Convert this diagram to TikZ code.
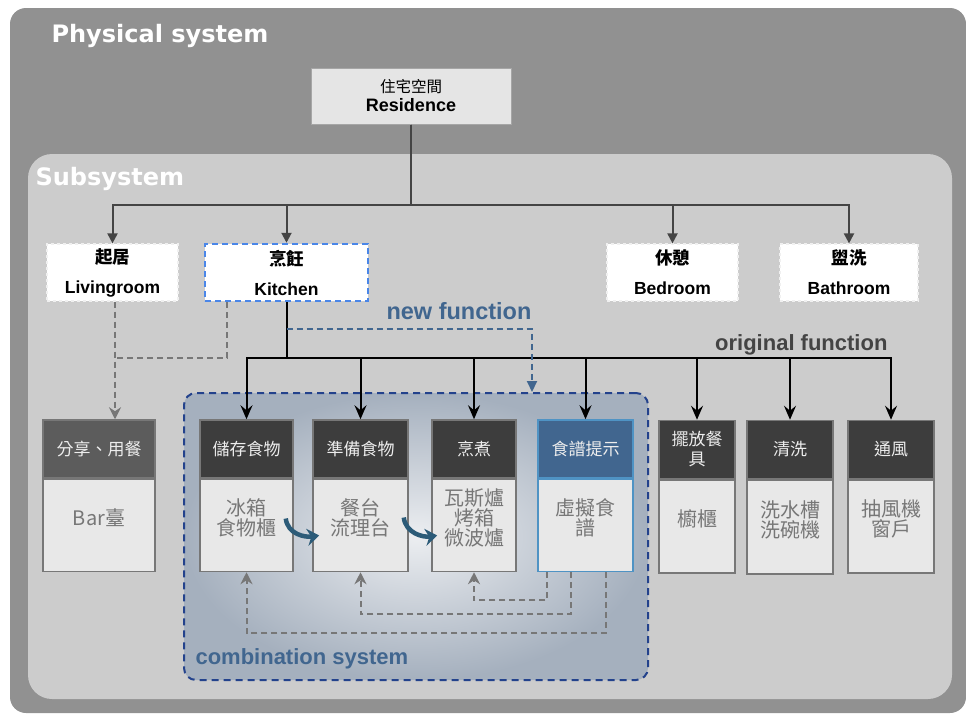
\documentclass[tikz,border=0pt]{standalone}
\usepackage{fontspec}
\setmainfont{Liberation Sans}
\newfontfamily\cjk{Noto Sans CJK TC}
\newfontfamily\verd{DejaVu Sans}
\usetikzlibrary{arrows.meta,positioning}

\definecolor{outergray}{HTML}{919191}
\definecolor{subgray}{HTML}{CCCCCC}
\definecolor{linkgray}{HTML}{444444}
\definecolor{headgray}{HTML}{3D3D3D}
\definecolor{bargray}{HTML}{5C5C5C}
\definecolor{bodygray}{HTML}{E8E8E8}
\definecolor{edgegray}{HTML}{777777}
\definecolor{steel}{HTML}{41668F}
\definecolor{recipeedge}{HTML}{4F93C4}
\definecolor{kitchenblue}{HTML}{4A86E8}
\definecolor{combodash}{HTML}{23428C}
\definecolor{flowteal}{HTML}{2C5B78}
\definecolor{comboin}{HTML}{ECEEF1}
\definecolor{comboout}{HTML}{A5B0BE}

\tikzset{
    roombox/.style={draw=white!88!gray, dashed, line width=1.2pt, fill=white,
        minimum height=57pt, inner sep=0pt, align=center,
        font=\fontsize{17.5}{30}\selectfont\bfseries},
    headbox/.style={draw=edgegray, line width=1.5pt, fill=headgray, text=white!86!gray,
        minimum height=58pt, inner sep=0pt, align=center,
        font=\cjk\fontsize{17}{20}\selectfont},
    bodybox/.style={draw=edgegray, line width=1.5pt, fill=bodygray, text=edgegray,
        minimum height=92pt, inner sep=0pt, align=center, anchor=north, text depth=16pt,
        font=\cjk\fontsize{20}{20}\selectfont},
    toparrow/.style={draw=linkgray, line width=2pt, -{Triangle[length=10pt,width=10pt]}},
    funcarrow/.style={draw=black, line width=2pt, -{Stealth[length=14pt,width=12pt,inset=5pt]}},
    backarrow/.style={draw=edgegray, line width=2pt, dash pattern=on 6pt off 4pt,
        -{Stealth[length=12pt,width=12pt,inset=4pt]}},
    newarrow/.style={draw=steel, line width=2pt, dash pattern=on 6pt off 4pt,
        -{Triangle[length=11pt,width=10pt]}},
    flowarrow/.style={draw=flowteal, line width=4.5pt, -{Stealth[length=12pt,width=17pt,inset=4pt]}},
    framelabel/.style={anchor=base west, text=white, font=\verd\bfseries\fontsize{24}{28}\selectfont},
    funclabel/.style={font=\bfseries\fontsize{22}{26}\selectfont},
}

\begin{document}
\begin{tikzpicture}[x=1pt, y=-1pt]

    \useasboundingbox (0,0) rectangle (966,715);
    \fill[white] (0,0) rectangle (966,715);

    % Physical system frame
    \fill[outergray, rounded corners=16pt] (10,8) rectangle (966,713);
    \node[framelabel] (physlabel) at (48,42) {Physical system};

    % Subsystem frame
    \fill[subgray, rounded corners=24pt] (28,154) rectangle (952,699);
    \node[framelabel] (sublabel) at (32,185) {Subsystem};

    % Combination system (shaded, dashed)
    \node[draw=combodash, dashed, dash pattern=on 7pt off 5pt, line width=2pt, rounded corners=12pt,
        inner color=comboin, outer color=comboout, minimum width=464pt, minimum height=287pt,
        inner sep=0pt] (combo) at (416,536.5) {};
    \node[funclabel, anchor=base west, text=steel] (combolabel) at (192,664) {combination system};

    % Residence
    \node[draw=gray!70, line width=1pt, fill=gray!20, minimum width=200pt, minimum height=56pt,
        inner sep=0pt, align=center, font=\fontsize{18}{19}\selectfont] (res) at (411,96)
        {{\cjk\fontsize{15.5}{19}\selectfont 住宅空間}\\\textbf{Residence}};

    % Rooms
    \node[roombox, minimum width=131pt] (living) at (112.5,272.5) {{\cjk 起居}\\Livingroom};
    \node[roombox, minimum width=163pt, draw=kitchenblue, line width=2.5pt,
        dash pattern=on 6pt off 4pt] (kitchen) at (286.5,272.5) {{\cjk 烹飪}\\Kitchen};
    \node[roombox, minimum width=131pt] (bedroom) at (672.5,272.5) {{\cjk 休憩}\\Bedroom};
    \node[roombox, minimum width=138pt] (bathroom) at (849,272.5) {{\cjk 盥洗}\\Bathroom};

    % Functions (header + body)
    \node[headbox, fill=bargray, minimum width=112pt] (bar) at (99,449) {分享、用餐};
    \node[bodybox, minimum width=112pt] (barb) at (bar.south) {Bar臺};

    \node[headbox, minimum width=93pt] (store) at (246.5,449) {儲存食物};
    \node[bodybox, minimum width=93pt] (storeb) at (store.south) {冰箱\\食物櫃};

    \node[headbox, minimum width=95pt] (prep) at (360.5,449) {準備食物};
    \node[bodybox, minimum width=95pt] (prepb) at (prep.south) {餐台\\流理台};

    \node[headbox, minimum width=84pt] (cook) at (474,449) {烹煮};
    \node[bodybox, minimum width=84pt] (cookb) at (cook.south) {瓦斯爐\\烤箱\\微波爐};

    \node[headbox, fill=steel, draw=recipeedge, minimum width=95pt] (recipe) at (585.5,449) {食譜提示};
    \node[bodybox, draw=recipeedge, minimum width=95pt] (recipeb) at (recipe.south) {虛擬食\\譜};

    \node[headbox, minimum width=76pt] (dish) at (697,449.5) {擺放餐\\具};
    \node[bodybox, minimum width=76pt, minimum height=93pt] (dishb) at (dish.south) {櫥櫃};

    \node[headbox, minimum width=86pt] (wash) at (790,449.5) {清洗};
    \node[bodybox, minimum width=86pt, minimum height=94pt] (washb) at (wash.south) {洗水槽\\洗碗機};

    \node[headbox, minimum width=86pt] (vent) at (891,449.5) {通風};
    \node[bodybox, minimum width=86pt, minimum height=93pt] (ventb) at (vent.south) {抽風機\\窗戶};

    % Residence -> rooms
    \coordinate (hub) at (411,205);
    \foreach \room in {living, kitchen, bedroom, bathroom} {
        \draw[toparrow] (res.south) -- (hub) -| (\room.north);
    }

    % Kitchen -> original functions
    \coordinate (khub) at (286.5,358);
    \foreach \func in {store, prep, cook, recipe, dish, wash, vent} {
        \draw[funcarrow] (kitchen.south) -- (khub) -| (\func.north);
    }
    \node[funclabel, anchor=base east, text=linkgray] (origlabel) at (891,350) {original function};

    % Kitchen -> new function
    \coordinate (newin) at (532,392);
    \draw[newarrow] ([yshift=-27pt]kitchen.south) -| (newin);
    \node[funclabel, anchor=base west, text=steel, font=\bfseries\fontsize{23.5}{26}\selectfont]
        (newlabel) at (383,319) {new function};

    % Living / kitchen -> bar
    \coordinate (lhub) at (115,358);
    \draw[backarrow] (living.south -| lhub) -- (lhub |- bar.north);
    \draw[backarrow, -] ([xshift=-59.5pt]kitchen.south) |- (lhub);

    % Recipe feedback
    \draw[backarrow] ([xshift=10pt]recipeb.south west) -- ++(0,28) -| (cookb.south);
    \draw[backarrow] ([xshift=34pt]recipeb.south west) -- ++(0,42) -| (prepb.south);
    \draw[backarrow] ([xshift=69pt]recipeb.south west) -- ++(0,61) -| (storeb.south);

    % Work flow
    \draw[flowarrow] ([shift={(-8pt,7pt)}]storeb.east) .. controls +(2,16) and +(-14,2) .. ([shift={(7pt,-10pt)}]prepb.west);
    \draw[flowarrow] ([shift={(-5pt,8pt)}]prepb.east) .. controls +(2,16) and +(-14,2) .. ([shift={(6pt,-10pt)}]cookb.west);

\end{tikzpicture}
\end{document}
